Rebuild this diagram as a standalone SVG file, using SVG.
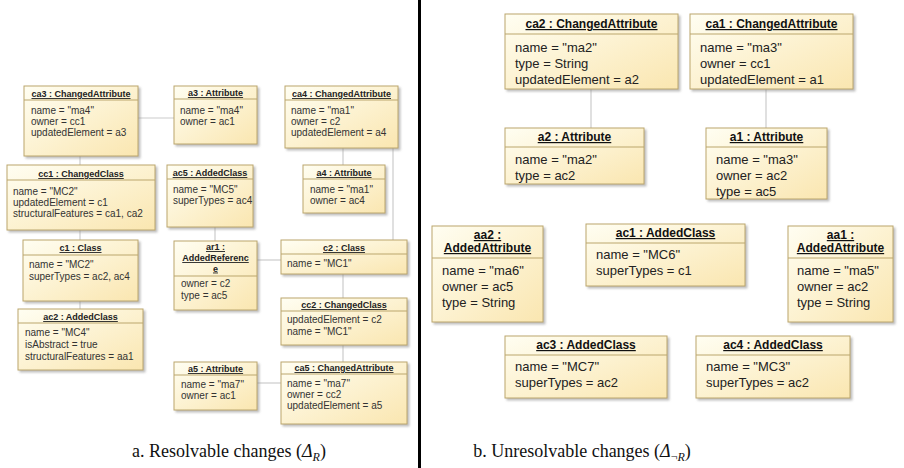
<svg xmlns="http://www.w3.org/2000/svg" width="904" height="468" viewBox="0 0 904 468">
<defs>
<linearGradient id="g" x1="0" y1="0" x2="1" y2="1">
<stop offset="0" stop-color="#fffef2"/>
<stop offset="1" stop-color="#fae6b0"/>
</linearGradient>
<filter id="sh" x="-10%" y="-10%" width="130%" height="130%">
<feDropShadow dx="2" dy="2" stdDeviation="1" flood-color="#888" flood-opacity="0.55"/>
</filter>
<style>
.box{fill:url(#g);stroke:#bba66c;stroke-width:1;filter:url(#sh)}
.hl{stroke:#bba66c;stroke-width:1}
.t{font-family:"Liberation Sans",Arial,sans-serif;font-size:10px;fill:#333}
.h{font-family:"Liberation Sans",Arial,sans-serif;font-size:9px;font-weight:bold;text-decoration:underline;text-anchor:middle;fill:#222}
.T{font-family:"Liberation Sans",Arial,sans-serif;font-size:13px;fill:#222}
.H{font-family:"Liberation Sans",Arial,sans-serif;font-size:12px;font-weight:bold;text-decoration:underline;text-anchor:middle;fill:#111}
.c{stroke:#cccccc;stroke-width:1.2;fill:none}
.cap{font-family:"Liberation Serif","Times New Roman",serif;font-size:18px;fill:#111;text-anchor:middle}
</style>
</defs>
<rect width="904" height="468" fill="#ffffff"/>
<g id="connectors">
<line class="c" x1="138" y1="118" x2="174" y2="118"/>
<line class="c" x1="80" y1="156" x2="80" y2="165"/>
<line class="c" x1="80" y1="230" x2="80" y2="240"/>
<line class="c" x1="80" y1="301" x2="80" y2="309"/>
<line class="c" x1="343" y1="148" x2="343" y2="165"/>
<line class="c" x1="393" y1="148" x2="393" y2="240"/>
<line class="c" x1="215" y1="227" x2="215" y2="241"/>
<line class="c" x1="257" y1="260" x2="281" y2="260"/>
<line class="c" x1="343" y1="274" x2="343" y2="298"/>
<line class="c" x1="343" y1="345" x2="343" y2="362"/>
<line class="c" x1="257" y1="383" x2="281" y2="383"/>
<line class="c" x1="591" y1="89" x2="591" y2="128"/>
<line class="c" x1="766" y1="89" x2="766" y2="128"/>
</g>
<g id="ca3">
<rect class="box" x="24" y="86" width="114" height="70"/>
<line class="hl" x1="24" y1="100" x2="138" y2="100"/>
<text class="h" x="81" y="97">ca3 : ChangedAttribute</text>
<text class="t" x="31" y="114">name = "ma4"</text>
<text class="t" x="31" y="125">owner = cc1</text>
<text class="t" x="31" y="136">updatedElement = a3</text>
</g>
<g id="a3">
<rect class="box" x="174" y="86" width="83" height="58"/>
<line class="hl" x1="174" y1="99" x2="257" y2="99"/>
<text class="h" x="215.5" y="96">a3 : Attribute</text>
<text class="t" x="180" y="114">name = "ma4"</text>
<text class="t" x="180" y="125">owner = ac1</text>
</g>
<g id="ca4">
<rect class="box" x="285" y="86" width="113" height="62"/>
<line class="hl" x1="285" y1="100" x2="398" y2="100"/>
<text class="h" x="341.5" y="97">ca4 : ChangedAttribute</text>
<text class="t" x="291" y="114">name = "ma1"</text>
<text class="t" x="291" y="125">owner = c2</text>
<text class="t" x="291" y="136">updatedElement = a4</text>
</g>
<g id="cc1">
<rect class="box" x="7" y="165" width="148" height="65"/>
<line class="hl" x1="7" y1="180" x2="155" y2="180"/>
<text class="h" x="81" y="177">cc1 : ChangedClass</text>
<text class="t" x="13" y="195">name = "MC2"</text>
<text class="t" x="13" y="206">updatedElement = c1</text>
<text class="t" x="13" y="217">structuralFeatures = ca1, ca2</text>
</g>
<g id="ac5">
<rect class="box" x="167" y="165" width="86" height="62"/>
<line class="hl" x1="167" y1="179" x2="253" y2="179"/>
<text class="h" x="210" y="176">ac5 : AddedClass</text>
<text class="t" x="173" y="193">name = "MC5"</text>
<text class="t" x="173" y="204">superTypes = ac4</text>
</g>
<g id="a4">
<rect class="box" x="303" y="165" width="82" height="48"/>
<line class="hl" x1="303" y1="179" x2="385" y2="179"/>
<text class="h" x="344" y="176">a4 : Attribute</text>
<text class="t" x="310" y="193">name = "ma1"</text>
<text class="t" x="310" y="204">owner = ac4</text>
</g>
<g id="c1">
<rect class="box" x="23" y="240" width="115" height="61"/>
<line class="hl" x1="23" y1="255" x2="138" y2="255"/>
<text class="h" x="80.5" y="251">c1 : Class</text>
<text class="t" x="29" y="268">name = "MC2"</text>
<text class="t" x="29" y="279.5">superTypes = ac2, ac4</text>
</g>
<g id="ac2">
<rect class="box" x="18" y="309" width="125" height="61"/>
<line class="hl" x1="18" y1="323" x2="143" y2="323"/>
<text class="h" x="80.5" y="320">ac2 : AddedClass</text>
<text class="t" x="25" y="336">name = "MC4"</text>
<text class="t" x="25" y="348">isAbstract = true</text>
<text class="t" x="25" y="360">structuralFeatures = aa1</text>
</g>
<g id="ar1">
<rect class="box" x="174" y="241" width="83" height="69"/>
<line class="hl" x1="174" y1="276" x2="257" y2="276"/>
<text class="h" x="215.5" y="250">ar1 :</text>
<text class="h" x="215.5" y="261">AddedReferenc</text>
<text class="h" x="215.5" y="271.5">e</text>
<text class="t" x="181" y="287">owner = c2</text>
<text class="t" x="181" y="298.5">type = ac5</text>
</g>
<g id="c2">
<rect class="box" x="281" y="240" width="126" height="34"/>
<line class="hl" x1="281" y1="254" x2="407" y2="254"/>
<text class="h" x="344" y="251">c2 : Class</text>
<text class="t" x="287" y="266.5">name = "MC1"</text>
</g>
<g id="cc2">
<rect class="box" x="281" y="298" width="126" height="47"/>
<line class="hl" x1="281" y1="311" x2="407" y2="311"/>
<text class="h" x="344" y="308">cc2 : ChangedClass</text>
<text class="t" x="287" y="323">updatedElement = c2</text>
<text class="t" x="287" y="334.5">name = "MC1"</text>
</g>
<g id="a5">
<rect class="box" x="174" y="362" width="83" height="48"/>
<line class="hl" x1="174" y1="375" x2="257" y2="375"/>
<text class="h" x="215.5" y="372">a5 : Attribute</text>
<text class="t" x="181" y="387.5">name = "ma7"</text>
<text class="t" x="181" y="399">owner = ac1</text>
</g>
<g id="ca5">
<rect class="box" x="281" y="362" width="126" height="62"/>
<line class="hl" x1="281" y1="374" x2="407" y2="374"/>
<text class="h" x="344" y="371">ca5 : ChangedAttribute</text>
<text class="t" x="287" y="386.5">name = "ma7"</text>
<text class="t" x="287" y="397.5">owner = cc2</text>
<text class="t" x="287" y="408.5">updatedElement = a5</text>
</g>
<rect x="418" y="0" width="3" height="468" fill="#000"/>
<g id="ca2">
<rect class="box" x="505" y="14" width="173" height="75"/>
<line class="hl" x1="505" y1="34" x2="678" y2="34"/>
<text class="H" x="591.5" y="28">ca2 : ChangedAttribute</text>
<text class="T" x="515" y="52">name = "ma2"</text>
<text class="T" x="515" y="68">type = String</text>
<text class="T" x="515" y="84">updatedElement = a2</text>
</g>
<g id="ca1">
<rect class="box" x="690" y="14" width="163" height="75"/>
<line class="hl" x1="690" y1="34" x2="853" y2="34"/>
<text class="H" x="771.5" y="28">ca1 : ChangedAttribute</text>
<text class="T" x="700" y="52">name = "ma3"</text>
<text class="T" x="700" y="68">owner = cc1</text>
<text class="T" x="700" y="84">updatedElement = a1</text>
</g>
<g id="a2">
<rect class="box" x="505" y="128" width="139" height="56"/>
<line class="hl" x1="505" y1="147" x2="644" y2="147"/>
<text class="H" x="574.5" y="141">a2 : Attribute</text>
<text class="T" x="515" y="164">name = "ma2"</text>
<text class="T" x="515" y="180">type = ac2</text>
</g>
<g id="a1">
<rect class="box" x="706" y="128" width="121" height="71"/>
<line class="hl" x1="706" y1="147" x2="827" y2="147"/>
<text class="H" x="766.5" y="141">a1 : Attribute</text>
<text class="T" x="716" y="164">name = "ma3"</text>
<text class="T" x="716" y="180">owner = ac2</text>
<text class="T" x="716" y="196">type = ac5</text>
</g>
<g id="aa2">
<rect class="box" x="432" y="226" width="111" height="96"/>
<line class="hl" x1="432" y1="258" x2="543" y2="258"/>
<text class="H" x="487.5" y="239">aa2 :</text>
<text class="H" x="487.5" y="252">AddedAttribute</text>
<text class="T" x="442" y="275">name = "ma6"</text>
<text class="T" x="442" y="291">owner = ac5</text>
<text class="T" x="442" y="307">type = String</text>
</g>
<g id="ac1">
<rect class="box" x="586" y="224" width="159" height="62"/>
<line class="hl" x1="586" y1="243" x2="745" y2="243"/>
<text class="H" x="665.5" y="237">ac1 : AddedClass</text>
<text class="T" x="596" y="259">name = "MC6"</text>
<text class="T" x="596" y="275">superTypes = c1</text>
</g>
<g id="aa1">
<rect class="box" x="788" y="226" width="105" height="96"/>
<line class="hl" x1="788" y1="258" x2="893" y2="258"/>
<text class="H" x="840.5" y="239">aa1 :</text>
<text class="H" x="840.5" y="252">AddedAttribute</text>
<text class="T" x="797" y="275">name = "ma5"</text>
<text class="T" x="797" y="291">owner = ac2</text>
<text class="T" x="797" y="307">type = String</text>
</g>
<g id="ac3">
<rect class="box" x="505" y="336" width="162" height="62"/>
<line class="hl" x1="505" y1="355" x2="667" y2="355"/>
<text class="H" x="586" y="349">ac3 : AddedClass</text>
<text class="T" x="515" y="371">name = "MC7"</text>
<text class="T" x="515" y="387">superTypes = ac2</text>
</g>
<g id="ac4">
<rect class="box" x="696" y="336" width="154" height="62"/>
<line class="hl" x1="696" y1="355" x2="850" y2="355"/>
<text class="H" x="773" y="349">ac4 : AddedClass</text>
<text class="T" x="706" y="371">name = "MC3"</text>
<text class="T" x="706" y="387">superTypes = ac2</text>
</g>
<text class="cap" x="229" y="457">a. Resolvable changes (<tspan font-style="italic">Δ</tspan><tspan font-style="italic" font-size="12" dy="4">R</tspan><tspan dy="-4">)</tspan></text>
<text class="cap" x="582" y="457">b. Unresolvable changes (<tspan font-style="italic">Δ</tspan><tspan font-size="12" dy="4">¬</tspan><tspan font-style="italic" font-size="12">R</tspan><tspan dy="-4">)</tspan></text>
</svg>
